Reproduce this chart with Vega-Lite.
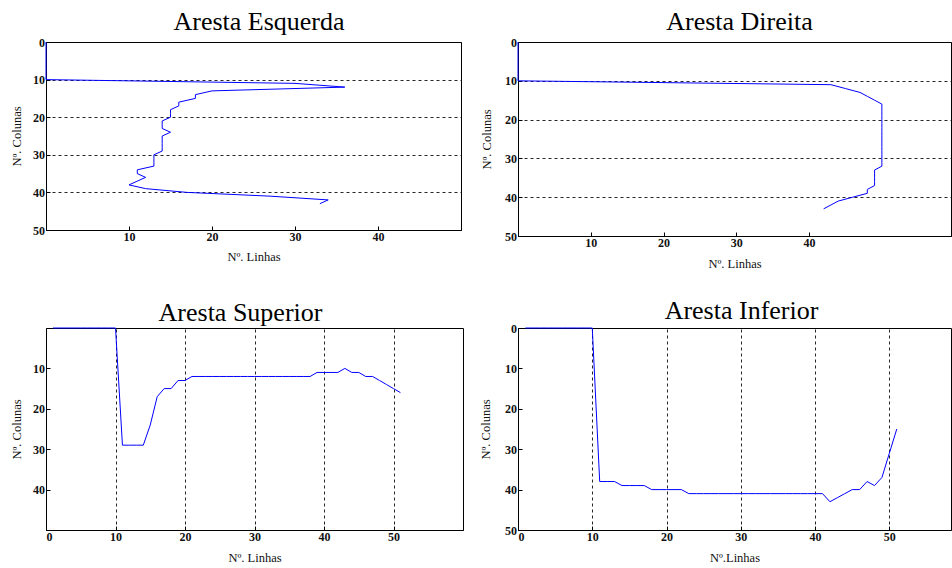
{
  "$schema": "https://vega.github.io/schema/vega-lite/v6.json",
  "background": "white",
  "padding": {"left": 9, "top": 8, "right": 0, "bottom": 0},
  "bounds": "flush",
  "columns": 2,
  "spacing": {"row": 92, "column": 55},
  "config": {
    "view": {"stroke": "#000", "strokeWidth": 1},
    "axis": {
      "labelFont": "Liberation Serif", "labelFontSize": 12, "labelFontWeight": "bold", "labelColor": "#111",
      "titleFont": "Liberation Serif", "titleFontSize": 12.5, "titleFontWeight": "normal", "titleColor": "#111",
      "domainColor": "#000", "tickColor": "#000", "tickSize": -4, "labelPadding": 5.5,
      "gridColor": "#000", "gridDash": [3, 3], "gridOpacity": 0.85, "gridWidth": 1
    },
    "title": {"font": "Liberation Serif", "fontSize": 26, "fontWeight": "normal", "color": "#000", "baseline": "alphabetic", "anchor": "middle", "frame": "group", "offset": 0}
  },
  "datasets": {
    "esq": [
      {"x": 0, "y": 0}, {"x": 0, "y": 1}, {"x": 0, "y": 2}, {"x": 0, "y": 3}, {"x": 0, "y": 4}, {"x": 0, "y": 5},
      {"x": 0, "y": 6}, {"x": 0, "y": 7}, {"x": 0, "y": 8}, {"x": 0, "y": 9}, {"x": 0, "y": 10},
      {"x": 30, "y": 11}, {"x": 36, "y": 12}, {"x": 20, "y": 13}, {"x": 18, "y": 14}, {"x": 18, "y": 15},
      {"x": 16, "y": 16}, {"x": 16, "y": 17}, {"x": 15, "y": 18}, {"x": 15, "y": 19}, {"x": 15, "y": 20},
      {"x": 14, "y": 21}, {"x": 14, "y": 22}, {"x": 14, "y": 23}, {"x": 15, "y": 24}, {"x": 14, "y": 25},
      {"x": 14, "y": 26}, {"x": 14, "y": 27}, {"x": 14, "y": 28}, {"x": 14, "y": 29}, {"x": 13, "y": 30},
      {"x": 13, "y": 31}, {"x": 13, "y": 32}, {"x": 13, "y": 33}, {"x": 11, "y": 34}, {"x": 11, "y": 35},
      {"x": 12, "y": 36}, {"x": 11, "y": 37}, {"x": 10, "y": 38}, {"x": 12, "y": 39}, {"x": 17, "y": 40},
      {"x": 27, "y": 41}, {"x": 34, "y": 42}, {"x": 33, "y": 43}
    ],
    "dir": [
      {"x": 0, "y": 0}, {"x": 0, "y": 1}, {"x": 0, "y": 2}, {"x": 0, "y": 3}, {"x": 0, "y": 4}, {"x": 0, "y": 5},
      {"x": 0, "y": 6}, {"x": 0, "y": 7}, {"x": 0, "y": 8}, {"x": 0, "y": 9}, {"x": 0, "y": 10},
      {"x": 43, "y": 11}, {"x": 45, "y": 12}, {"x": 47, "y": 13}, {"x": 48, "y": 14}, {"x": 49, "y": 15},
      {"x": 50, "y": 16}, {"x": 50, "y": 17}, {"x": 50, "y": 18}, {"x": 50, "y": 19}, {"x": 50, "y": 20},
      {"x": 50, "y": 21}, {"x": 50, "y": 22}, {"x": 50, "y": 23}, {"x": 50, "y": 24}, {"x": 50, "y": 25},
      {"x": 50, "y": 26}, {"x": 50, "y": 27}, {"x": 50, "y": 28}, {"x": 50, "y": 29}, {"x": 50, "y": 30},
      {"x": 50, "y": 31}, {"x": 50, "y": 32}, {"x": 49, "y": 33}, {"x": 49, "y": 34}, {"x": 49, "y": 35},
      {"x": 49, "y": 36}, {"x": 49, "y": 37}, {"x": 48, "y": 38}, {"x": 48, "y": 39}, {"x": 46, "y": 40},
      {"x": 44, "y": 41}, {"x": 43, "y": 42}, {"x": 42, "y": 43}
    ],
    "sup": [
      {"x": 1, "y": 0}, {"x": 2, "y": 0}, {"x": 3, "y": 0}, {"x": 4, "y": 0}, {"x": 5, "y": 0},
      {"x": 6, "y": 0}, {"x": 7, "y": 0}, {"x": 8, "y": 0}, {"x": 9, "y": 0}, {"x": 10, "y": 0},
      {"x": 11, "y": 29}, {"x": 12, "y": 29}, {"x": 13, "y": 29}, {"x": 14, "y": 29}, {"x": 15, "y": 24},
      {"x": 16, "y": 17}, {"x": 17, "y": 15}, {"x": 18, "y": 15}, {"x": 19, "y": 13}, {"x": 20, "y": 13},
      {"x": 21, "y": 12}, {"x": 22, "y": 12}, {"x": 23, "y": 12}, {"x": 24, "y": 12}, {"x": 25, "y": 12},
      {"x": 26, "y": 12}, {"x": 27, "y": 12}, {"x": 28, "y": 12}, {"x": 29, "y": 12}, {"x": 30, "y": 12},
      {"x": 31, "y": 12}, {"x": 32, "y": 12}, {"x": 33, "y": 12}, {"x": 34, "y": 12}, {"x": 35, "y": 12},
      {"x": 36, "y": 12}, {"x": 37, "y": 12}, {"x": 38, "y": 12}, {"x": 39, "y": 11}, {"x": 40, "y": 11},
      {"x": 41, "y": 11}, {"x": 42, "y": 11}, {"x": 43, "y": 10}, {"x": 44, "y": 11}, {"x": 45, "y": 11},
      {"x": 46, "y": 12}, {"x": 47, "y": 12}, {"x": 48, "y": 13}, {"x": 49, "y": 14}, {"x": 50, "y": 15},
      {"x": 51, "y": 16}
    ],
    "inf": [
      {"x": 1, "y": 0}, {"x": 2, "y": 0}, {"x": 3, "y": 0}, {"x": 4, "y": 0}, {"x": 5, "y": 0},
      {"x": 6, "y": 0}, {"x": 7, "y": 0}, {"x": 8, "y": 0}, {"x": 9, "y": 0}, {"x": 10, "y": 0},
      {"x": 11, "y": 38}, {"x": 12, "y": 38}, {"x": 13, "y": 38}, {"x": 14, "y": 39}, {"x": 15, "y": 39},
      {"x": 16, "y": 39}, {"x": 17, "y": 39}, {"x": 18, "y": 40}, {"x": 19, "y": 40}, {"x": 20, "y": 40},
      {"x": 21, "y": 40}, {"x": 22, "y": 40}, {"x": 23, "y": 41}, {"x": 24, "y": 41}, {"x": 25, "y": 41},
      {"x": 26, "y": 41}, {"x": 27, "y": 41}, {"x": 28, "y": 41}, {"x": 29, "y": 41}, {"x": 30, "y": 41},
      {"x": 31, "y": 41}, {"x": 32, "y": 41}, {"x": 33, "y": 41}, {"x": 34, "y": 41}, {"x": 35, "y": 41},
      {"x": 36, "y": 41}, {"x": 37, "y": 41}, {"x": 38, "y": 41}, {"x": 39, "y": 41}, {"x": 40, "y": 41},
      {"x": 41, "y": 41}, {"x": 42, "y": 43}, {"x": 43, "y": 42}, {"x": 44, "y": 41}, {"x": 45, "y": 40},
      {"x": 46, "y": 40}, {"x": 47, "y": 38}, {"x": 48, "y": 39}, {"x": 49, "y": 37}, {"x": 50, "y": 31},
      {"x": 51, "y": 25}
    ]
  },
  "concat": [
    {
      "width": 415, "height": 188,
      "title": {"text": "Aresta Esquerda", "dy": 2.9, "dx": 5.5},
      "data": {"name": "esq"},
      "mark": {"type": "line", "color": "#0000ff", "strokeWidth": 1},
      "encoding": {
        "x": {"field": "x", "type": "quantitative", "scale": {"domain": [0, 50], "nice": false, "zero": false},
              "axis": {"title": "Nº. Linhas", "values": [10, 20, 30, 40], "grid": false, "titleY": 30, "titleBaseline": "alphabetic"}},
        "y": {"field": "y", "type": "quantitative", "scale": {"domain": [0, 50], "nice": false, "reverse": true},
              "axis": {"title": "Nº. Colunas", "values": [0, 10, 20, 30, 40, 50], "grid": true, "titleX": -30, "titleBaseline": "middle"}},
        "order": {"field": "y", "type": "quantitative"}
      }
    },
    {
      "width": 433, "height": 194,
      "title": {"text": "Aresta Direita", "dy": 3.2, "dx": 5},
      "data": {"name": "dir"},
      "mark": {"type": "line", "color": "#0000ff", "strokeWidth": 1},
      "encoding": {
        "x": {"field": "x", "type": "quantitative", "scale": {"domain": [0, 59.5], "nice": false, "zero": false},
              "axis": {"title": "Nº. Linhas", "values": [10, 20, 30, 40], "grid": false, "titleY": 31, "titleBaseline": "alphabetic"}},
        "y": {"field": "y", "type": "quantitative", "scale": {"domain": [0, 50], "nice": false, "reverse": true},
              "axis": {"title": "Nº. Colunas", "values": [0, 10, 20, 30, 40, 50], "grid": true, "titleX": -31.5, "titleBaseline": "middle"}},
        "order": {"field": "y", "type": "quantitative"}
      }
    },
    {
      "width": 417, "height": 202,
      "title": {"text": "Aresta Superior", "dy": 3.9, "dx": -14},
      "data": {"name": "sup"},
      "mark": {"type": "line", "color": "#0000ff", "strokeWidth": 1},
      "encoding": {
        "x": {"field": "x", "type": "quantitative", "scale": {"domain": [0, 60], "nice": false, "zero": false},
              "axis": {"title": "Nº. Linhas", "values": [0, 10, 20, 30, 40, 50], "grid": true, "titleY": 31, "titleBaseline": "alphabetic"}},
        "y": {"field": "y", "type": "quantitative", "scale": {"domain": [0, 50], "nice": false, "reverse": true},
              "axis": {"title": "Nº. Colunas", "values": [10, 20, 30, 40], "grid": false, "titleX": -30, "titleBaseline": "middle"}}
      }
    },
    {
      "width": 433, "height": 202,
      "title": {"text": "Aresta Inferior", "dy": 6.3, "dx": 7},
      "data": {"name": "inf"},
      "mark": {"type": "line", "color": "#0000ff", "strokeWidth": 1},
      "encoding": {
        "x": {"field": "x", "type": "quantitative", "scale": {"domain": [0, 58.3], "nice": false, "zero": false},
              "axis": {"title": "Nº.Linhas", "values": [0, 10, 20, 30, 40, 50], "grid": true, "titleY": 31, "titleBaseline": "alphabetic"}},
        "y": {"field": "y", "type": "quantitative", "scale": {"domain": [0, 50], "nice": false, "reverse": true},
              "axis": {"title": "Nº. Colunas", "values": [0, 10, 20, 30, 40, 50], "grid": false, "titleX": -32.4, "titleBaseline": "middle"}}
      }
    }
  ]
}
